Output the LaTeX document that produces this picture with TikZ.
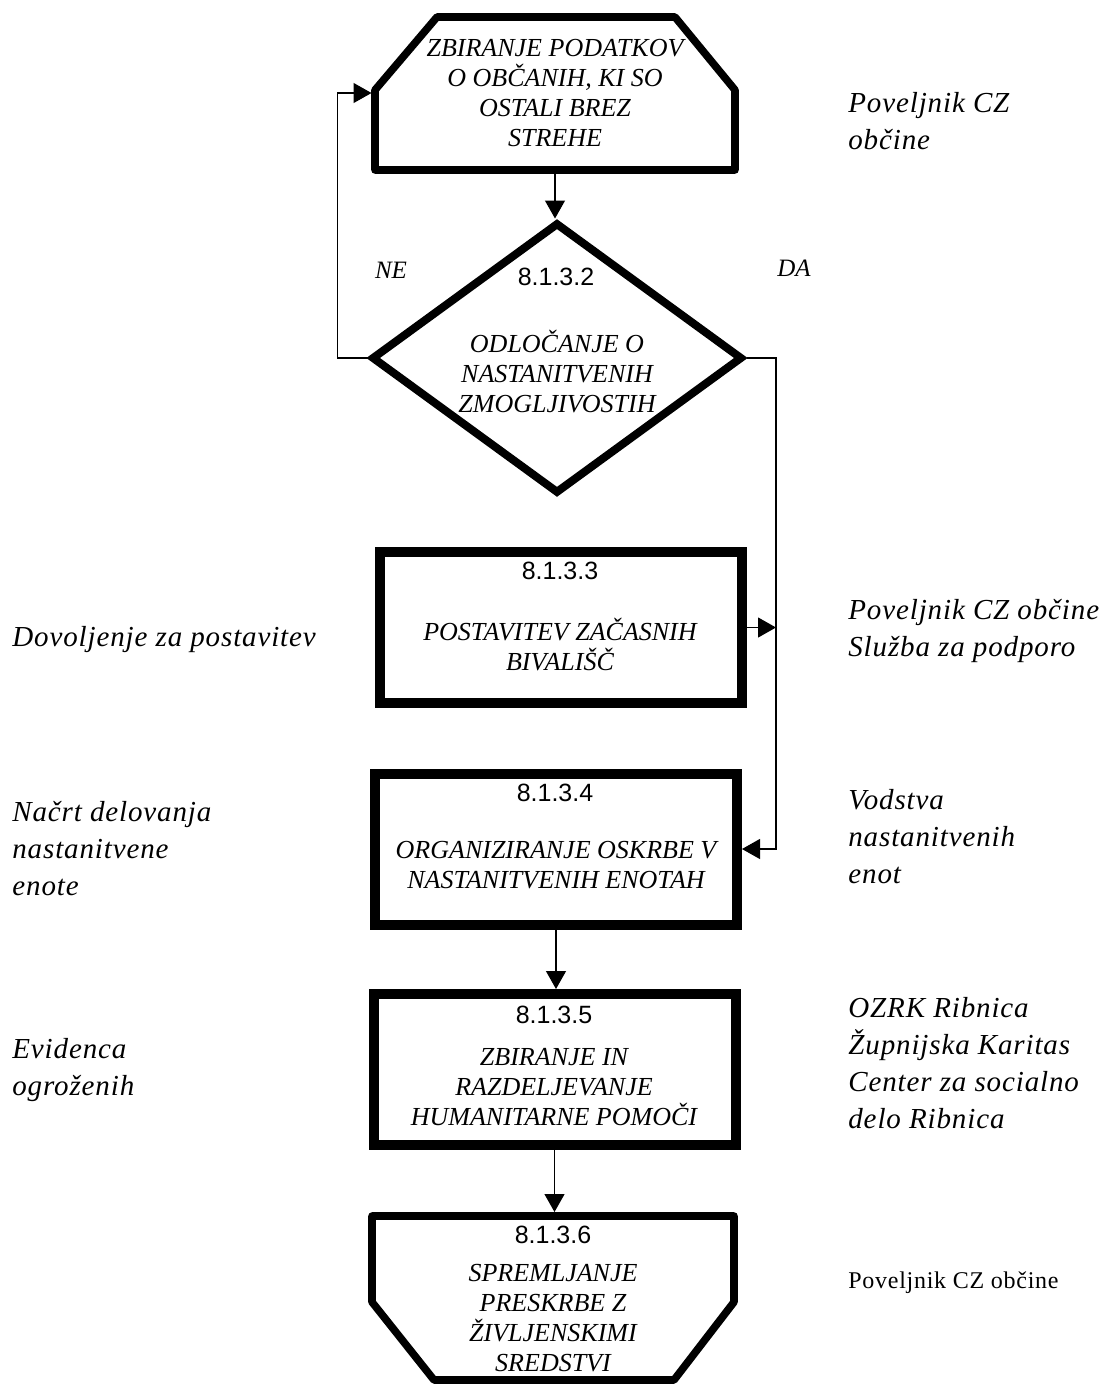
\documentclass[tikz,border=0pt]{standalone}
\usepackage{fontspec}
\setmainfont{Liberation Serif}
\newfontfamily\sidefont[LetterSpace=3]{Liberation Serif}
\newfontfamily\numfont{Liberation Sans}
\usetikzlibrary{shapes.geometric,arrows.meta,calc}
\begin{document}
\begin{tikzpicture}[x=0.5pt,y=-0.5pt,
  conn/.style={line width=0.6pt,-{Triangle[length=9pt,width=10pt]}},
  procbox/.style={draw,line width=5pt,minimum width=181pt,minimum height=75.5pt,inner sep=0pt},
  shapeline/.style={line width=3.8pt,line join=round},
  holder/.style={inner sep=0pt,outer sep=0pt,align=center,font=\fontsize{13}{15}\selectfont\itshape},
  boxtxt/.style={font=\fontsize{13}{15}\selectfont\itshape,align=center,inner sep=0pt},
  numtxt/.style={font=\numfont\fontsize{12.5}{15}\selectfont,inner sep=0pt},
  sidetxt/.style={font=\sidefont\fontsize{14.5}{18.5}\selectfont\itshape,align=left,anchor=west,inner sep=0pt},
  yesno/.style={font=\fontsize{12.5}{15}\selectfont\itshape,inner sep=0pt},
]
\useasboundingbox (0,0) rectangle (1106,1388);

% top box (cut corners)
\draw[shapeline] (375,90) -- (437,17) -- (675,17) -- (735,90) -- (735,170) -- (375,170) -- cycle;
\node[holder,minimum width=183.5pt,minimum height=80pt] (n1) at (555,93)
  {ZBIRANJE PODATKOV\\O OBČANIH, KI SO\\OSTALI BREZ\\STREHE};

% decision
\node[diamond,draw,line width=4pt,minimum width=185.5pt,minimum height=135.5pt,inner sep=0pt] (n2) at (557,358) {};
\node[numtxt] (n2num) at (556,277) {8.1.3.2};
\node[boxtxt] (n2txt) at (557,372) {ODLOČANJE O\\NASTANITVENIH\\ZMOGLJIVOSTIH};

% box 3
\node[procbox] (n3) at (561,627.5) {};
\node[numtxt] (n3num) at (560,571) {8.1.3.3};
\node[boxtxt] (n3txt) at (560,645) {POSTAVITEV ZAČASNIH\\BIVALIŠČ};

% box 4
\node[procbox] (n4) at (556,849) {};
\node[numtxt] (n4num) at (555,793) {8.1.3.4};
\node[boxtxt] (n4txt) at (556,865) {ORGANIZIRANJE OSKRBE V\\NASTANITVENIH ENOTAH};

% box 5
\node[procbox] (n5) at (554.5,1069.5) {};
\node[numtxt] (n5num) at (554,1015) {8.1.3.5};
\node[boxtxt] (n5txt) at (554,1087) {ZBIRANJE IN\\RAZDELJEVANJE\\HUMANITARNE POMOČI};

% bottom shape
\draw[shapeline] (372,1216) -- (734,1216) -- (734,1302) -- (674,1380) -- (434,1380) -- (372,1302) -- cycle;
\node[holder,minimum width=185pt,minimum height=86pt] (n6) at (553,1298) {};
\node[numtxt] (n6num) at (553,1235) {8.1.3.6};
\node[boxtxt] (n6txt) at (553,1318) {SPREMLJANJE\\PRESKRBE Z\\ŽIVLJENSKIMI\\SREDSTVI};

% connectors
\coordinate (rail) at (776,358);
\draw[conn] (n1.south) -- (n1.south |- n2.north);
\draw[conn] (n2.west) -- ++(-30,0) |- (n1.west);
\draw[conn] (n2.east) -- (rail) |- (n4.east);
\draw[conn] (n3.east) -- (n3.east -| rail);
\draw[conn] (n4.south) -- (n4.south |- n5.north);
\draw[conn] (n5.south) -- (n5.south |- n6.north);

% yes / no
\node[yesno] (ne) at (391,270) {NE};
\node[yesno] (da) at (794,268) {DA};

% side texts
\node[sidetxt] (t1) at (848,121) {Poveljnik CZ\\občine};
\node[sidetxt] (t2) at (12,640) {Dovoljenje za postavitev};
\node[sidetxt] (t3) at (848,631) {Poveljnik CZ občine\\Služba za podporo};
\node[sidetxt] (t4) at (12,849) {Načrt delovanja\\nastanitvene\\enote};
\node[sidetxt] (t5) at (848,837) {Vodstva\\nastanitvenih\\enot};
\node[sidetxt] (t6) at (12,1070) {Evidenca\\ogroženih};
\node[sidetxt] (t7) at (848,1063) {OZRK Ribnica\\Župnijska Karitas\\Center za socialno\\delo Ribnica};
\node[font=\sidefont\fontsize{12}{14}\selectfont,anchor=west,inner sep=0pt] (t8) at (848,1283) {Poveljnik CZ občine};
\end{tikzpicture}
\end{document}
